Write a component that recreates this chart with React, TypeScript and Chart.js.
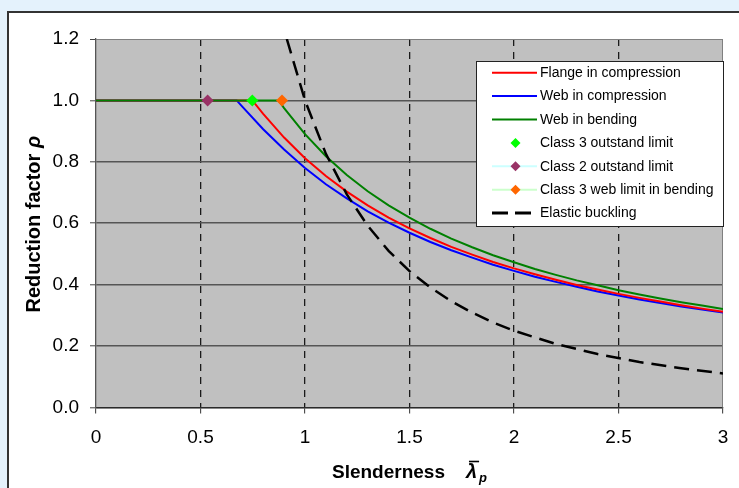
import React, { useEffect, useRef } from "react";
import { Chart, registerables } from "chart.js";

Chart.register(...registerables);

const FONT = '"Liberation Sans", Arial, Helvetica, sans-serif';

// ---- data ----
const lambdaFlange = [0, 0.748, 0.8, 0.9, 1.0, 1.1, 1.2, 1.3, 1.4, 1.5, 1.6, 1.7, 1.8, 1.9, 2.0, 2.1, 2.2, 2.3, 2.4, 2.5, 2.6, 2.7, 2.8, 2.9, 3.0];
const rhoFlange = [1, 1, 0.956, 0.879, 0.812, 0.754, 0.703, 0.658, 0.618, 0.583, 0.552, 0.523, 0.498, 0.474, 0.453, 0.434, 0.416, 0.399, 0.384, 0.37, 0.357, 0.345, 0.333, 0.322, 0.312];

const lambdaWebComp = [0, 0.673, 0.7, 0.8, 0.9, 1.0, 1.1, 1.2, 1.3, 1.4, 1.5, 1.6, 1.7, 1.8, 1.9, 2.0, 2.1, 2.2, 2.3, 2.4, 2.5, 2.6, 2.7, 2.8, 2.9, 3.0];
const rhoWebComp = [1, 1, 0.98, 0.906, 0.84, 0.78, 0.727, 0.681, 0.639, 0.602, 0.569, 0.539, 0.512, 0.488, 0.465, 0.445, 0.426, 0.409, 0.393, 0.378, 0.365, 0.352, 0.34, 0.329, 0.319, 0.309];

const lambdaWebBend = [0, 0.75, 0.874, 0.9, 1.0, 1.1, 1.2, 1.3, 1.4, 1.5, 1.6, 1.7, 1.8, 1.9, 2.0, 2.1, 2.2, 2.3, 2.4, 2.5, 2.6, 2.7, 2.8, 2.9, 3.0];
const rhoWebBend = [1, 1, 1, 0.975, 0.89, 0.818, 0.757, 0.704, 0.658, 0.618, 0.582, 0.55, 0.522, 0.496, 0.473, 0.451, 0.432, 0.414, 0.398, 0.382, 0.368, 0.355, 0.343, 0.332, 0.321];

const lambdaElastic = [0.913, 1.0, 1.1, 1.2, 1.3, 1.4, 1.5, 1.6, 1.7, 1.8, 1.9, 2.0, 2.2, 2.4, 2.6, 2.8, 3.0];
const rhoElastic = [1.2, 1.0, 0.826, 0.694, 0.592, 0.51, 0.444, 0.391, 0.346, 0.309, 0.277, 0.25, 0.207, 0.174, 0.148, 0.128, 0.111];

const class3OutstandLimit = { lambda: 0.748, rho: 1 };
const class2OutstandLimit = { lambda: 0.534, rho: 1 };
const class3WebBendLimit = { lambda: 0.89, rho: 1 };

const xAxisRange = { min: 0, max: 3, step: 0.5 };
const yAxisRange = { min: 0, max: 1.2, step: 0.2 };

const seriesLabels = [
  "Flange in compression",
  "Web in compression",
  "Web in bending",
  "Class 3 outstand limit",
  "Class 2 outstand limit",
  "Class 3 web limit in bending",
  "Elastic buckling",
];

const xTitle = "Slenderness";
const yTitle = "Reduction factor ";

const zip = (xs: number[], ys: number[]) => xs.map((x, i) => ({ x, y: ys[i] }));

const ELASTIC_DASH = [15, 8];

const customPlugin = {
  id: "customDecor",
  beforeDraw(chart: any) {
    const { ctx, chartArea: a } = chart;
    ctx.save();
    ctx.fillStyle = "#c0c0c0";
    ctx.fillRect(a.left, a.top, a.right - a.left, a.bottom - a.top);
    ctx.restore();
  },
  beforeDatasetsDraw(chart: any) {
    const { ctx, chartArea: a } = chart;
    ctx.save();
    ctx.strokeStyle = "#808080";
    ctx.lineWidth = 1;
    ctx.beginPath();
    ctx.moveTo(Math.round(a.right) - 0.5, a.top);
    ctx.lineTo(Math.round(a.right) - 0.5, a.bottom);
    ctx.stroke();
    ctx.restore();
  },
  afterDraw(chart: any) {
    const { ctx, chartArea: a } = chart;
    ctx.save();
    // ---- X title ----
    ctx.fillStyle = "#000";
    ctx.textBaseline = "alphabetic";
    ctx.textAlign = "left";
    const fMain = `bold 19px ${FONT}`;
    const fLam = `italic bold 20px ${FONT}`;
    const fSub = `italic bold 13px ${FONT}`;
    ctx.font = fMain;
    const w1 = ctx.measureText(xTitle).width;
    ctx.font = fLam;
    const w2 = ctx.measureText("λ").width;
    ctx.font = fSub;
    const w3 = ctx.measureText("p").width;
    const gap = 21;
    const total = w1 + gap + w2 + 2 + w3;
    const cx = (a.left + a.right) / 2;
    let x = cx - total / 2;
    const base = 478;
    ctx.font = fMain;
    ctx.fillText(xTitle, x, base);
    x += w1 + gap;
    ctx.font = fLam;
    ctx.fillText("λ", x, base);
    // overline
    ctx.strokeStyle = "#000";
    ctx.lineWidth = 1.6;
    ctx.beginPath();
    ctx.moveTo(x + 3, base - 16.5);
    ctx.lineTo(x + w2 + 2, base - 16.5);
    ctx.stroke();
    x += w2 + 2;
    ctx.font = fSub;
    ctx.fillText("p", x, base + 4);

    // ---- Y title ----
    const fy = `bold 20px ${FONT}`;
    const fyRho = `italic bold 20px ${FONT}`;
    ctx.font = fy;
    const y1 = ctx.measureText(yTitle).width;
    ctx.font = fyRho;
    const y2 = ctx.measureText("ρ").width;
    const cy = (a.top + a.bottom) / 2 + 1;
    ctx.translate(40, cy);
    ctx.rotate(-Math.PI / 2);
    const start = -(y1 + y2) / 2;
    ctx.font = fy;
    ctx.fillText(yTitle, start, 0);
    ctx.font = fyRho;
    ctx.fillText("ρ", start + y1, 0);
    ctx.setTransform(1, 0, 0, 1, 0, 0);
    ctx.restore();

    // ---- Legend ----
    ctx.save();
    const lx = Math.round(a.right) - 247;
    const ly = Math.round(a.top) + 22;
    const lw = 248;
    const lh = 166;
    ctx.fillStyle = "#ffffff";
    ctx.fillRect(lx, ly, lw, lh);
    ctx.strokeStyle = "#222";
    ctx.lineWidth = 1;
    ctx.strokeRect(lx + 0.5, ly + 0.5, lw - 1, lh - 1);
    const dsets = chart.data.datasets;
    ctx.font = `14px ${FONT}`;
    ctx.textBaseline = "middle";
    ctx.textAlign = "left";
    dsets.forEach((ds: any, i: number) => {
      const ry = ly + 11.7 + i * 23.4;
      const sx0 = lx + 16;
      const sx1 = lx + 61;
      if (ds.legendLine) {
        ctx.save();
        ctx.strokeStyle = ds.legendLine;
        ctx.lineWidth = ds.legendWidth || 2;
        ctx.setLineDash(ds.legendDash || []);
        ctx.beginPath();
        ctx.moveTo(sx0, ry);
        ctx.lineTo(sx1, ry);
        ctx.stroke();
        ctx.restore();
      }
      if (ds.legendMarker) {
        const mx = (sx0 + sx1) / 2 + 1;
        const r = 5;
        ctx.save();
        ctx.fillStyle = ds.legendMarker;
        ctx.beginPath();
        ctx.moveTo(mx, ry - r);
        ctx.lineTo(mx + r, ry);
        ctx.lineTo(mx, ry + r);
        ctx.lineTo(mx - r, ry);
        ctx.closePath();
        ctx.fill();
        ctx.restore();
      }
      ctx.fillStyle = "#000";
      ctx.fillText(ds.label, lx + 64, ry + 0.5);
    });
    ctx.restore();
  },
};

function ChartView() {
  const ref = useRef<HTMLCanvasElement | null>(null);
  useEffect(() => {
    if (!ref.current) return;
    const marker = (p: { lambda: number; rho: number }) => [{ x: p.lambda, y: p.rho }];
    const chart = new Chart(ref.current, {
      type: "scatter",
      data: {
        datasets: [
          {
            label: seriesLabels[0],
            data: zip(lambdaFlange, rhoFlange),
            showLine: true,
            borderColor: "#ff0000",
            backgroundColor: "#ff0000",
            borderWidth: 2,
            pointRadius: 0,
            order: 3,
            legendLine: "#ff0000",
          } as any,
          {
            label: seriesLabels[1],
            data: zip(lambdaWebComp, rhoWebComp),
            showLine: true,
            borderColor: "#0000ff",
            backgroundColor: "#0000ff",
            borderWidth: 2,
            pointRadius: 0,
            order: 4,
            legendLine: "#0000ff",
          },
          {
            label: seriesLabels[2],
            data: zip(lambdaWebBend, rhoWebBend),
            showLine: true,
            borderColor: "#008000",
            backgroundColor: "#008000",
            borderWidth: 2,
            pointRadius: 0,
            order: 2,
            legendLine: "#008000",
          },
          {
            label: seriesLabels[3],
            data: marker(class3OutstandLimit),
            showLine: false,
            pointStyle: "rectRot",
            pointRadius: 6,
            pointBorderWidth: 0,
            backgroundColor: "#00ff00",
            borderColor: "#00ff00",
            order: 0,
            legendMarker: "#00ff00",
          },
          {
            label: seriesLabels[4],
            data: marker(class2OutstandLimit),
            showLine: false,
            pointStyle: "rectRot",
            pointRadius: 6,
            pointBorderWidth: 0,
            backgroundColor: "#993366",
            borderColor: "#993366",
            order: 0,
            legendMarker: "#993366",
            legendLine: "#ccffff",
          },
          {
            label: seriesLabels[5],
            data: marker(class3WebBendLimit),
            showLine: false,
            pointStyle: "rectRot",
            pointRadius: 6,
            pointBorderWidth: 0,
            backgroundColor: "#ff6600",
            borderColor: "#ff6600",
            order: 0,
            legendMarker: "#ff6600",
            legendLine: "#ccffcc",
          },
          {
            label: seriesLabels[6],
            data: zip(lambdaElastic, rhoElastic),
            showLine: true,
            borderColor: "#000000",
            backgroundColor: "#000000",
            borderWidth: 2.5,
            borderDash: ELASTIC_DASH,
            pointRadius: 0,
            order: 1,
            legendLine: "#000000",
            legendWidth: 3,
            legendDash: [16, 7],
          },
        ] as any,
      },
      options: {
        animation: false,
        responsive: false,
        maintainAspectRatio: false,
        layout: { padding: { top: 39, right: 16, left: 0, bottom: 0 } },
        plugins: {
          legend: { display: false },
          tooltip: { enabled: false },
          title: { display: false },
        },
        scales: {
          x: {
            type: "linear",
            min: xAxisRange.min,
            max: xAxisRange.max,
            afterFit: (s: any) => {
              s.height = 80.5;
              s.paddingRight = 0;
            },
            ticks: {
              stepSize: xAxisRange.step,
              color: "#000",
              font: { family: FONT, size: 19 },
              padding: 13,
              maxRotation: 0,
              callback: (v: any) => String(Math.round(Number(v) * 10) / 10),
            },
            grid: {
              color: (c: any) =>
                c.tick && (c.tick.value === xAxisRange.min || c.tick.value === xAxisRange.max)
                  ? "rgba(0,0,0,0)"
                  : "#1a1a1a",
              lineWidth: 1.3,
              tickColor: "#333",
              tickWidth: 1,
              tickLength: 6,
              tickBorderDash: [],
            },
            border: { display: true, color: "#2a2a2a", width: 1.3, dash: [7, 6] },
          },
          y: {
            type: "linear",
            min: yAxisRange.min,
            max: yAxisRange.max,
            afterFit: (s: any) => {
              s.width = 96;
            },
            ticks: {
              stepSize: yAxisRange.step,
              color: "#000",
              font: { family: FONT, size: 19 },
              padding: 11,
              callback: (v: any) => Number(v).toFixed(1),
            },
            grid: {
              color: (c: any) =>
                c.tick && c.tick.value === yAxisRange.max ? "#808080" : "#555",
              lineWidth: (c: any) => (c.tick && c.tick.value === yAxisRange.max ? 1 : 1.6),
              tickColor: "#444",
              tickWidth: 1,
              tickLength: 6,
            },
            border: { display: true, color: "#555", width: 1.3 },
          },
        },
      } as any,
      plugins: [customPlugin],
    });
    return () => chart.destroy();
  }, []);
  return (
    <canvas
      ref={ref}
      width={739}
      height={488}
      style={{ position: "absolute", left: 0, top: 0, width: 739, height: 488 }}
    />
  );
}

export default function App() {
  return (
    <div
      style={{
        position: "fixed",
        left: 0,
        top: 0,
        width: 739,
        height: 488,
        background: "#e4f2fc",
        overflow: "hidden",
      }}
    >
      <div
        style={{
          position: "absolute",
          left: 7,
          top: 11,
          width: 760,
          height: 500,
          background: "#ffffff",
          borderTop: "2px solid #333",
          borderLeft: "2px solid #333",
        }}
      />
      <ChartView />
    </div>
  );
}
